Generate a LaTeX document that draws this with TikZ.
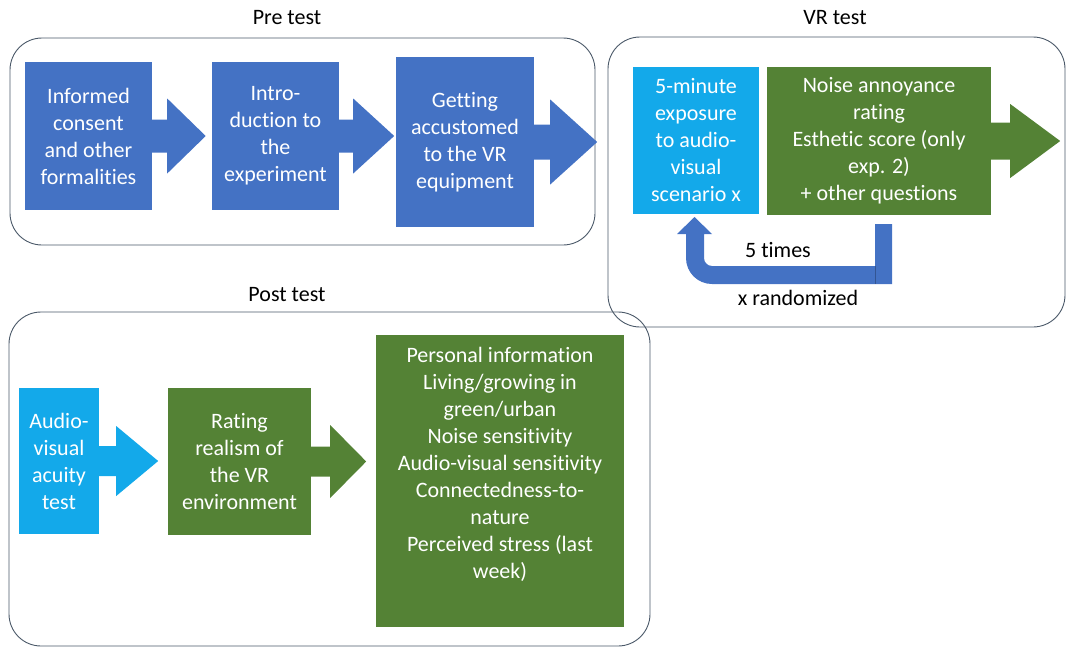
\documentclass[tikz,border=0pt]{standalone}
\usepackage{fontspec}
\setmainfont{Carlito}[Ligatures=NoCommon]
\usetikzlibrary{calc}

\definecolor{stepblue}{HTML}{4472C4}
\definecolor{stepgreen}{HTML}{548235}
\definecolor{stepcyan}{HTML}{13A9EA}
\definecolor{framegray}{HTML}{4A5868}

% block arrow: start anchor, length, head length, shaft half-height, head half-height, colour
\newcommand\blkarrow[6]{%
  \fill[#6] ($(#1)+(0,-#4)$) -- ++(#2-#3,0) -- ++(0,#4-#5) -- ($(#1)+(#2,0)$)
    -- ($(#1)+(#2-#3,#5)$) -- ++(0,#4-#5) -- ($(#1)+(0,#4)$) -- cycle;}

\begin{document}
\begin{tikzpicture}[x=1pt,y=-1pt,
  stepbox/.style={inner sep=0pt, align=center, text=white,
    font=\fontsize{22}{27}\selectfont},
  title/.style={inner sep=0pt, font=\fontsize{22}{27}\selectfont},
  phase/.style={draw=framegray, line width=0.9pt, rounded corners=32pt},
]
\useasboundingbox (0,0) rectangle (1067,648);

% phase frames
\draw[phase] (10,38) rectangle (595,245);
\draw[phase] (608,37) rectangle (1065,327);
\draw[phase] (9,312) rectangle (650,646);

% phase titles
\node[title] (tpre)  at (287,18)  {Pre test};
\node[title] (tvr)   at (835,18)  {VR test};
\node[title] (tpost) at (287,295) {Post test};

% pre test
\node[stepbox, fill=stepblue, minimum width=127, minimum height=148] (b1) at (88.5,136)
  {Informed\\consent\\and other\\formalities};
\node[stepbox, fill=stepblue, minimum width=127, minimum height=148] (b2) at (275.5,136)
  {Intro-\\duction to\\the\\experiment};
\node[stepbox, fill=stepblue, minimum width=138, minimum height=170] (b3) at (465,142)
  {Getting\\accustomed\\to the VR\\equipment};
\blkarrow{b1.east}{53.5}{38.5}{16.5}{37.5}{stepblue}
\blkarrow{b2.east}{55}{41}{16.5}{37.5}{stepblue}
\blkarrow{b3.east}{63}{47}{17.5}{42.5}{stepblue}

% VR test
\node[stepbox, fill=stepcyan, minimum width=126, minimum height=147] (vx) at (696,140.5)
  {5-minute\\exposure\\to audio-\\visual\\scenario x};
\node[stepbox, fill=stepgreen, minimum width=224, minimum height=148] (vq) at (879,141)
  {Noise annoyance\\rating\\Esthetic score (only\\exp. 2)\\+ other questions};
\blkarrow{vq.east}{69}{50}{18.5}{37}{stepgreen}

% repeat loop back to the exposure step
\coordinate (loopfrom) at (883.5,224);
\coordinate (loopto) at (694.5,217);
\fill[stepblue] (892,224) -- (892,284) -- (712,284)
  .. controls (697.6,284) and (686,272.4) .. (686,258)
  -- (686,234) -- (677,234) -- (loopto) -- (712,234) -- (704,234) -- (704,258)
  .. controls (704,262.4) and (707.6,266) .. (712,266)
  -- (875,266) -- (875,224) -- cycle;
\draw[stepblue!75!black, line width=0.5pt] (875,266) -- (875,284);
\node[title] (times) at (778,250) {5 times};
\node[title] (rand) at (798,298) {x randomized};

% post test
\node[stepbox, fill=stepcyan, minimum width=80, minimum height=146] (pa) at (59,461)
  {Audio-\\visual\\acuity\\test};
\node[stepbox, fill=stepgreen, minimum width=143, minimum height=147] (pr) at (239.5,461.5)
  {Rating\\realism of\\the VR\\environment};
\node[fill=stepgreen, inner sep=0pt, minimum width=248, minimum height=292] (pp) at (500,481) {};
\node[stepbox, anchor=north] (pptext) at ($(pp.north)+(0,12)$)
  {Personal information\\Living/growing in\\green/urban\\Noise sensitivity\\Audio-visual sensitivity\\Connectedness-to-\\nature\\Perceived stress (last\\week)};
\blkarrow{pa.east}{59}{42}{15}{35}{stepcyan}
\blkarrow{pr.east}{55}{36}{15}{36.5}{stepgreen}
\end{tikzpicture}
\end{document}
